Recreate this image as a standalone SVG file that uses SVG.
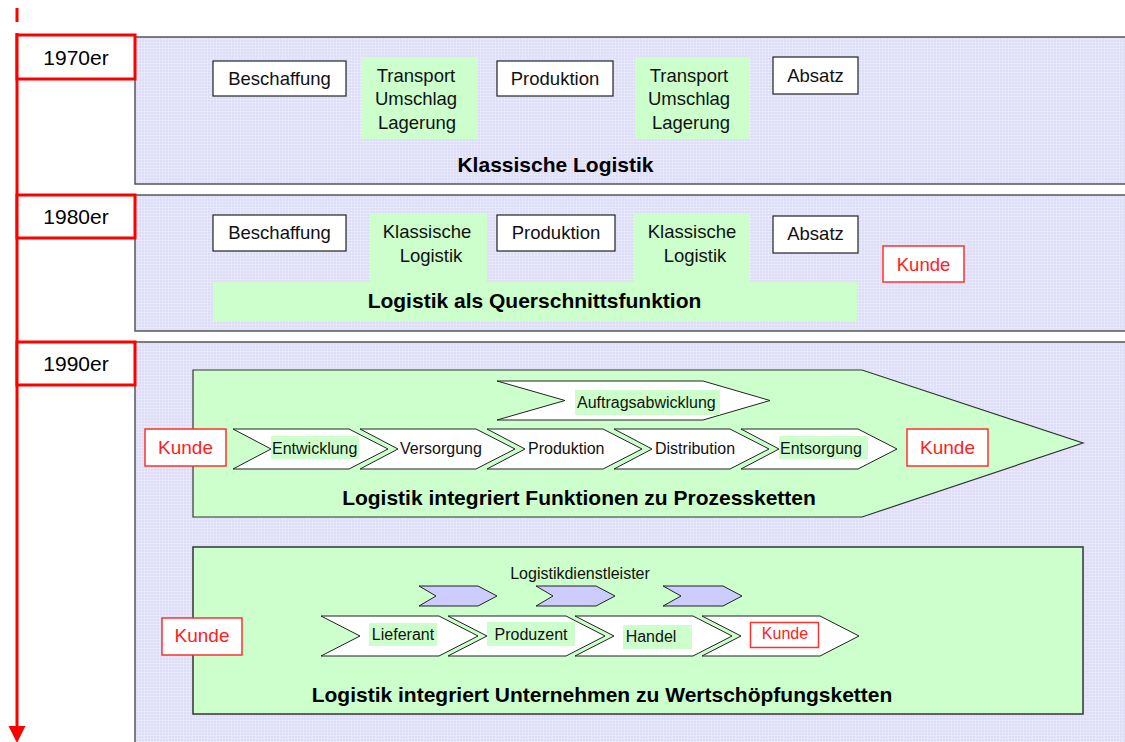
<svg xmlns="http://www.w3.org/2000/svg" width="1125" height="742" viewBox="0 0 1125 742">
  <defs>
    <pattern id="dots" width="3" height="3" patternUnits="userSpaceOnUse">
      <rect width="3" height="3" fill="#E2E2FA"/>
      <rect x="0" y="0" width="1" height="1" fill="#F2F2FF"/>
      <rect x="1.5" y="1.5" width="1" height="1" fill="#D6D6F0"/>
    </pattern>
    <marker id="arrowhead" markerWidth="18" markerHeight="12" refX="0" refY="0" orient="auto" markerUnits="userSpaceOnUse" viewBox="0 -6 18 12" overflow="visible">
      <polygon points="0,-8.5 0,8.5 17,0" fill="#FF0000"/>
    </marker>
    <style>
      .panel { fill: url(#dots); stroke: #555; stroke-width: 1.5; }
      .year { fill: #FFFFFF; stroke: #FF0000; stroke-width: 3; }
      .yeartxt { font-family: "Liberation Sans", Arial, sans-serif; font-size: 21px; fill: #000; text-anchor: middle; }
      .box { fill: #FFFFFF; stroke: #222; stroke-width: 1.2; }
      .green { fill: #CCFFCC; }
      .kunde { fill: #FFFFFF; stroke: #FF3030; stroke-width: 1.5; }
      .chev { fill: #FFFFFF; stroke: #222; stroke-width: 1; }
      .chevblue { fill: #CCCCFF; stroke: #222; stroke-width: 1; }
      .lbl { font-family: "Liberation Sans", Arial, sans-serif; font-size: 18.5px; fill: #111; text-anchor: middle; }
      .small { font-family: "Liberation Sans", Arial, sans-serif; font-size: 16px; fill: #111; }
      .mid { text-anchor: middle; }
      .title { font-family: "Liberation Sans", Arial, sans-serif; font-size: 21px; font-weight: bold; fill: #000; text-anchor: middle; }
      .red { fill: #FF2020; }
      .big { font-size: 19px; }
    </style>
  </defs>

  <rect width="1125" height="742" fill="#FFFFFF"/>

  <!-- period panels -->
  <g id="panel-1970">
    <rect class="panel" x="135" y="37" width="1000" height="147"/>
  </g>
  <g id="panel-1980">
    <rect class="panel" x="135" y="195" width="1000" height="136"/>
  </g>
  <g id="panel-1990">
    <rect class="panel" x="135" y="342" width="1000" height="410"/>
  </g>

  <!-- time axis -->
  <g id="connectors">
    <line x1="17" y1="8" x2="17" y2="22" stroke="#FF0000" stroke-width="3"/>
    <line x1="17" y1="33" x2="17" y2="726" stroke="#FF0000" stroke-width="3" marker-end="url(#arrowhead)"/>
  </g>

  <!-- year labels -->
  <g id="year-1970">
    <rect class="year" x="17" y="35" width="118" height="44"/>
    <text class="yeartxt" x="76" y="65">1970er</text>
  </g>
  <g id="year-1980">
    <rect class="year" x="17" y="195" width="118" height="43"/>
    <text class="yeartxt" x="76" y="224">1980er</text>
  </g>
  <g id="year-1990">
    <rect class="year" x="17" y="342" width="118" height="43"/>
    <text class="yeartxt" x="76" y="371">1990er</text>
  </g>

  <!-- 1970s: classic logistics -->
  <g id="b70-beschaffung">
    <rect class="box" x="213" y="61" width="133" height="35"/>
    <text class="lbl" x="279.5" y="85">Beschaffung</text>
  </g>
  <g id="b70-tul1">
    <rect class="green" x="361" y="57" width="116" height="82"/>
    <text class="lbl" x="416" y="82">Transport</text>
    <text class="lbl" x="416" y="105">Umschlag</text>
    <text class="lbl" x="417" y="129">Lagerung</text>
  </g>
  <g id="b70-produktion">
    <rect class="box" x="497" y="61" width="116" height="35"/>
    <text class="lbl" x="555" y="85">Produktion</text>
  </g>
  <g id="b70-tul2">
    <rect class="green" x="635" y="57" width="115" height="82"/>
    <text class="lbl" x="689" y="82">Transport</text>
    <text class="lbl" x="689" y="105">Umschlag</text>
    <text class="lbl" x="691" y="129">Lagerung</text>
  </g>
  <g id="b70-absatz">
    <rect class="box" x="773" y="57" width="85" height="37"/>
    <text class="lbl" x="815.5" y="82">Absatz</text>
  </g>
  <g id="t70">
    <text class="title" x="555.5" y="172">Klassische Logistik</text>
  </g>

  <!-- 1980s: cross-sectional function -->
  <g id="b80-querschnitt">
    <path class="green" d="M213,282 H370 V213 H487 V282 H634 V213 H750 V282 H857 V321 H213 Z"/>
    <text class="title" x="534.5" y="308">Logistik als Querschnittsfunktion</text>
  </g>
  <g id="b80-beschaffung">
    <rect class="box" x="213" y="215" width="133" height="36"/>
    <text class="lbl" x="279.5" y="239">Beschaffung</text>
  </g>
  <g id="b80-klassisch1">
    <text class="lbl" x="427" y="238">Klassische</text>
    <text class="lbl" x="431" y="262">Logistik</text>
  </g>
  <g id="b80-produktion">
    <rect class="box" x="497" y="215" width="118" height="36"/>
    <text class="lbl" x="556" y="239">Produktion</text>
  </g>
  <g id="b80-klassisch2">
    <text class="lbl" x="692" y="238">Klassische</text>
    <text class="lbl" x="695" y="262">Logistik</text>
  </g>
  <g id="b80-absatz">
    <rect class="box" x="773" y="216" width="85" height="37"/>
    <text class="lbl" x="815.5" y="240">Absatz</text>
  </g>
  <g id="b80-kunde">
    <rect class="kunde" x="883" y="246" width="81" height="36"/>
    <text class="lbl red" x="923.5" y="271">Kunde</text>
  </g>

  <!-- 1990s: process chains -->
  <g id="b90-prozess">
    <polygon points="193,370 862,370 1083,443 862,517 193,517" fill="#CCFFCC" stroke="#333" stroke-width="1.2"/>
    <text class="title" x="579" y="505">Logistik integriert Funktionen zu Prozessketten</text>
  </g>
  <g id="b90-auftrag">
    <polygon class="chev" points="497,381 703,381 770,400.5 703,420 497,420 565,400.5"/>
    <rect class="green" x="575" y="390" width="145" height="25"/>
    <text class="small" x="577" y="408">Auftragsabwicklung</text>
  </g>
  <g id="b90-entwicklung">
    <polygon class="chev" points="233,429 349,429 388,449 349,469 233,469 271,449"/>
    <rect class="green" x="271" y="436" width="88" height="23"/>
    <text class="small" x="272" y="454">Entwicklung</text>
  </g>
  <g id="b90-versorgung">
    <polygon class="chev" points="360,429 476,429 515,449 476,469 360,469 398,449"/>
    <text class="small" x="400" y="454">Versorgung</text>
  </g>
  <g id="b90-produktion">
    <polygon class="chev" points="487,429 603,429 642,449 603,469 487,469 525,449"/>
    <text class="small" x="528" y="454">Produktion</text>
  </g>
  <g id="b90-distribution">
    <polygon class="chev" points="614,429 730,429 769,449 730,469 614,469 652,449"/>
    <text class="small" x="655" y="454">Distribution</text>
  </g>
  <g id="b90-entsorgung">
    <polygon class="chev" points="741,429 858,429 897,449 858,469 741,469 779,449"/>
    <rect class="green" x="779" y="436" width="89" height="23"/>
    <text class="small" x="780" y="454">Entsorgung</text>
  </g>
  <g id="b90-kunde-links">
    <rect class="kunde" x="145" y="429" width="81" height="37"/>
    <text class="lbl red big" x="185.5" y="454">Kunde</text>
  </g>
  <g id="b90-kunde-rechts">
    <rect class="kunde" x="907" y="429" width="81" height="37"/>
    <text class="lbl red big" x="947.5" y="454">Kunde</text>
  </g>

  <!-- 1990s: value chains -->
  <g id="b90-wertschoepfung">
    <rect x="193" y="547" width="890" height="167" fill="#CCFFCC" stroke="#333" stroke-width="1.5"/>
    <text class="title" x="602" y="702">Logistik integriert Unternehmen zu Wertschöpfungsketten</text>
  </g>
  <g id="b90-dienstleister">
    <text class="small mid" x="580" y="579">Logistikdienstleister</text>
    <polygon class="chevblue" points="419,586 478,586 497,596 478,606 419,606 436,596"/>
    <polygon class="chevblue" points="536,586 596,586 615,596 596,606 536,606 553,596"/>
    <polygon class="chevblue" points="663,586 723,586 742,596 723,606 663,606 681,596"/>
  </g>
  <g id="b90-lieferant">
    <polygon class="chev" points="321,616 439,616 478,636 439,656 321,656 360,636"/>
    <rect class="green" x="369" y="623" width="68" height="23"/>
    <text class="small mid" x="403" y="640">Lieferant</text>
  </g>
  <g id="b90-produzent">
    <polygon class="chev" points="448,616 566,616 605,636 566,656 448,656 487,636"/>
    <rect class="green" x="487" y="622" width="88" height="24"/>
    <text class="small mid" x="531" y="640">Produzent</text>
  </g>
  <g id="b90-handel">
    <polygon class="chev" points="575,616 693,616 732,636 693,656 575,656 614,636"/>
    <rect class="green" x="623" y="625" width="69" height="24"/>
    <text class="small mid" x="651" y="642">Handel</text>
  </g>
  <g id="b90-kunde-kette">
    <polygon class="chev" points="702,616 820,616 859,636 820,656 702,656 741,636"/>
    <rect class="kunde" x="750.5" y="622.5" width="68" height="25"/>
    <text class="small mid red" x="785" y="639">Kunde</text>
  </g>
  <g id="b90-kunde-unten">
    <rect class="kunde" x="162" y="618" width="80" height="37"/>
    <text class="lbl red big" x="202" y="642">Kunde</text>
  </g>
</svg>
